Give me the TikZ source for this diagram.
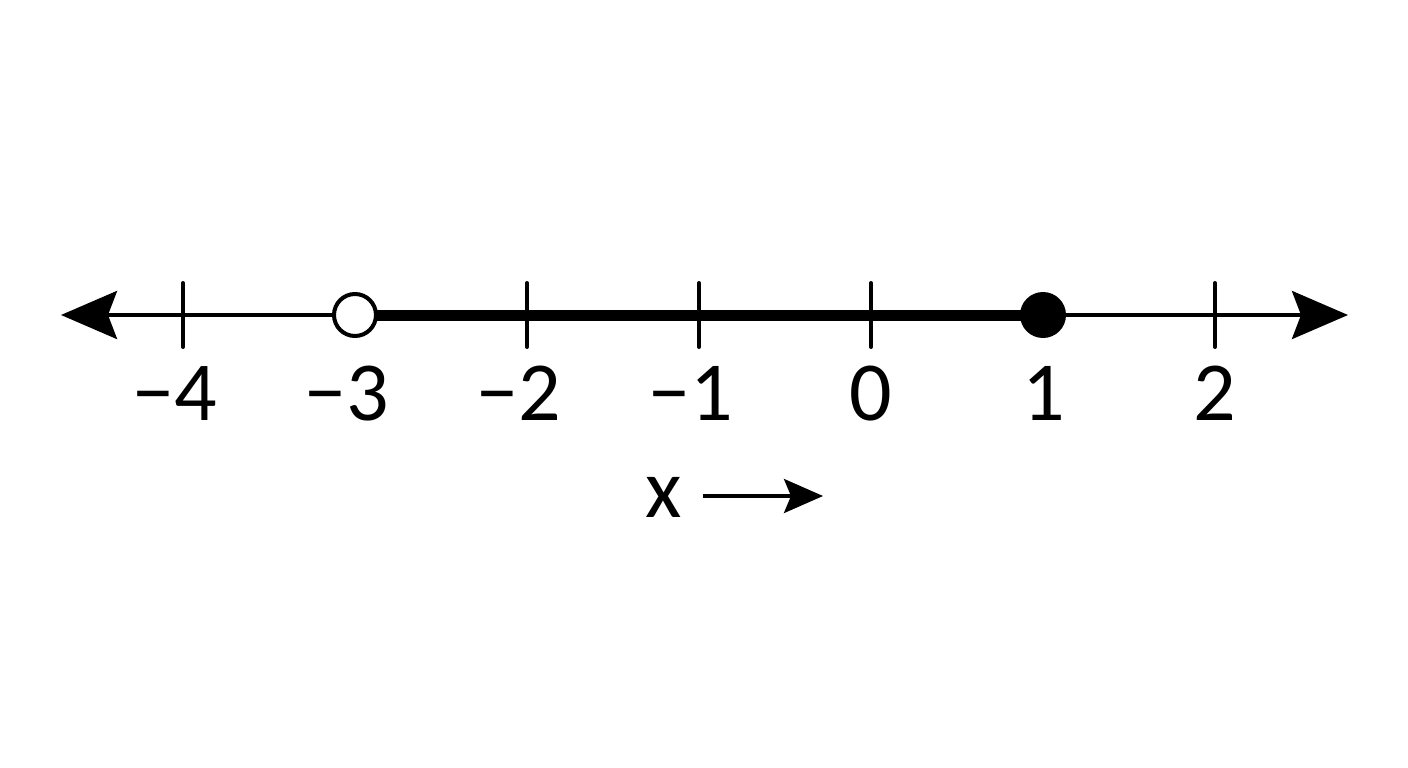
\documentclass[tikz,border=0pt]{standalone}
\usepackage{fontspec}
\setmainfont{Carlito}
\usetikzlibrary{arrows.meta}
\tikzset{
  axisline/.style={line width=4pt, black},
  bigtip/.style={-{Stealth[length=56pt,width=48pt,inset=9pt]}},
  ticksty/.style={line width=4pt, line cap=round},
  ticklabel/.style={anchor=base, inner sep=0pt, font=\fontsize{84}{100}\selectfont},
  opendot/.style={circle, draw, line width=4pt, fill=white, minimum size=42pt, inner sep=0pt},
  filldot/.style={circle, fill=black, minimum size=46pt, inner sep=0pt},
  segsty/.style={line width=11pt},
  smalltip/.style={-{Stealth[length=39pt,width=34pt,inset=7pt]}, line width=3.5pt}
}
\begin{document}
\begin{tikzpicture}[x=1pt,y=-1pt]
\useasboundingbox[fill=white] (0,0) rectangle (1408,768);
% axis ends
\coordinate (L) at (61,315);
\coordinate (R) at (1348,315);
\coordinate (mid) at (700,315);
\draw[axisline,bigtip] (mid) -- (L);
\draw[axisline,bigtip] (mid) -- (R);
% tick positions
\foreach \v/\px in {-4/183,-3/355,-2/527,-1/699,0/871,1/1043,2/1215}{
  \coordinate (t\v) at (\px,315);
}
\foreach \v in {-4,-2,-1,0,2}{
  \draw[ticksty] (t\v) ++(0,-32) -- ++(0,64);
}
% solution segment
\draw[segsty] (t-3) -- (t1);
\node[opendot] (open) at (t-3) {};
\node[filldot] (closed) at (t1) {};
% labels
\node[ticklabel] (l-4) at (175,420) {−4};
\node[ticklabel] (l-3) at (347,420) {−3};
\node[ticklabel] (l-2) at (519,420) {−2};
\node[ticklabel] (l-1) at (691,420) {−1};
\node[ticklabel] (l0) at (871,420) {0};
\node[ticklabel] (l1) at (1044,420) {1};
\node[ticklabel] (l2) at (1215,420) {2};
% variable label
\node[ticklabel] (xl) at (664,517) {x};
\coordinate (xa) at (703,496);
\coordinate (xb) at (823,496);
\draw[smalltip] (xa) -- (xb);
\end{tikzpicture}
\end{document}
